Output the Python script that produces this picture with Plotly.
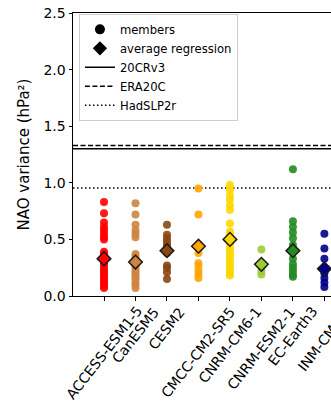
import plotly.graph_objects as go

models = ["ACCESS-ESM1-5", "CanESM5", "CESM2", "CMCC-CM2-SR5", "CNRM-CM6-1",
          "CNRM-ESM2-1", "EC-Earth3", "INM-CM5-0"]
colors = ["red", "peru", "saddlebrown", "orange", "gold", "yellowgreen",
          "forestgreen", "darkblue"]

members = {
    "ACCESS-ESM1-5": [0.83, 0.73, 0.65, 0.61, 0.58, 0.55, 0.52, 0.50, 0.39, 0.37,
                      0.35, 0.33, 0.31, 0.29, 0.27, 0.25, 0.23, 0.21, 0.19, 0.17,
                      0.15, 0.13, 0.11, 0.09, 0.07],
    "CanESM5": [0.82, 0.72, 0.63, 0.58, 0.55, 0.52, 0.37, 0.35, 0.33, 0.31, 0.29,
                0.27, 0.25, 0.23, 0.21, 0.19, 0.17, 0.15, 0.12, 0.10, 0.07],
    "CESM2": [0.63, 0.54, 0.51, 0.48, 0.45, 0.43, 0.40, 0.38, 0.27, 0.25, 0.21, 0.15],
    "CMCC-CM2-SR5": [0.95, 0.72, 0.44, 0.38, 0.29, 0.26, 0.22, 0.19, 0.16],
    "CNRM-CM6-1": [0.98, 0.94, 0.89, 0.85, 0.80, 0.76, 0.64, 0.57, 0.54, 0.50, 0.47,
                   0.44, 0.41, 0.38, 0.35, 0.32, 0.29, 0.26, 0.23, 0.20, 0.18],
    "CNRM-ESM2-1": [0.41, 0.28, 0.25, 0.22, 0.19],
    "EC-Earth3": [1.12, 0.66, 0.61, 0.56, 0.51, 0.45, 0.39, 0.33, 0.28, 0.25, 0.22,
                  0.19, 0.17],
    "INM-CM5-0": [0.55, 0.42, 0.33, 0.25, 0.20, 0.16, 0.12, 0.08],
}
avg_regression = [0.33, 0.30, 0.40, 0.44, 0.50, 0.28, 0.40, 0.24]

ref_names = ["20CRv3", "ERA20C", "HadSLP2r"]
ref_values = [1.30, 1.33, 0.955]
ref_dash = ["solid", "5px,2.5px", "1.5px,2.5px"]

y_ticks = [0.0, 0.5, 1.0, 1.5, 2.0, 2.5]

FONT = "DejaVu Sans"
fig = go.Figure()

for m, c in zip(models, colors):
    vals = members[m]
    fig.add_trace(go.Scatter(x=[m] * len(vals), y=vals, mode="markers",
                             marker=dict(color=c, size=8, opacity=0.9),
                             showlegend=False, hoverinfo="skip"))

fig.add_trace(go.Scatter(x=models, y=avg_regression, mode="markers",
                         marker=dict(symbol="diamond", color=colors, size=10.5,
                                     line=dict(color="#1a1a1a", width=1.5)),
                         showlegend=False))

for name, val, dash in zip(ref_names, ref_values, ref_dash):
    fig.add_hline(y=val, line=dict(color="black", width=1.5, dash=dash), layer="below")

# legend proxies
fig.add_trace(go.Scatter(x=[None], y=[None], mode="markers", name="members",
                         marker=dict(color="black", size=10)))
fig.add_trace(go.Scatter(x=[None], y=[None], mode="markers", name="average regression",
                         marker=dict(color="black", size=11, symbol="diamond")))
for name, dash in zip(ref_names, ref_dash):
    fig.add_trace(go.Scatter(x=[None], y=[None], mode="lines", name=name,
                             line=dict(color="black", width=1.5, dash=dash)))

# rotated, centred category labels (matplotlib style)
for m in models:
    fig.add_annotation(x=m, y=0, xref="x", yref="paper", text=m, showarrow=False,
                       textangle=-52, xanchor="center", yanchor="top", yshift=-5,
                       font=dict(family=FONT, size=14, color="black"))

fig.add_annotation(x=-0.19, y=0.5, xref="paper", yref="paper",
                   text="NAO variance (hPa²)", showarrow=False, textangle=-90,
                   xanchor="center", yanchor="middle",
                   font=dict(family=FONT, size=15, color="black"))

fig.update_layout(
    width=331, height=405,
    margin=dict(l=73, r=0, t=13, b=109),
    paper_bgcolor="white", plot_bgcolor="white",
    font=dict(family=FONT, size=14, color="black"),
    showlegend=True,
    legend=dict(x=0.023, y=0.997, xanchor="left", yanchor="top",
                bgcolor="rgba(255,255,255,0.8)", bordercolor="#cccccc", borderwidth=1,
                font=dict(family=FONT, size=11.6, color="black"),
                tracegroupgap=0),
    xaxis=dict(type="category", categoryorder="array", categoryarray=models,
               range=[-0.985, 7.21], showline=True, linecolor="black", linewidth=1,
               mirror=True, ticks="outside", ticklen=3.5, tickwidth=1, tickcolor="black",
               showticklabels=False, showgrid=False, zeroline=False),
    yaxis=dict(range=[0, 2.5], tickvals=y_ticks, tickformat=".1f",
               showline=True, linecolor="black", linewidth=1, ticks="outside",
               ticklen=3.5, tickwidth=1, tickcolor="black", showgrid=False,
               zeroline=False, tickfont=dict(family=FONT, size=14, color="black")),
)

fig.write_html("out.html")
